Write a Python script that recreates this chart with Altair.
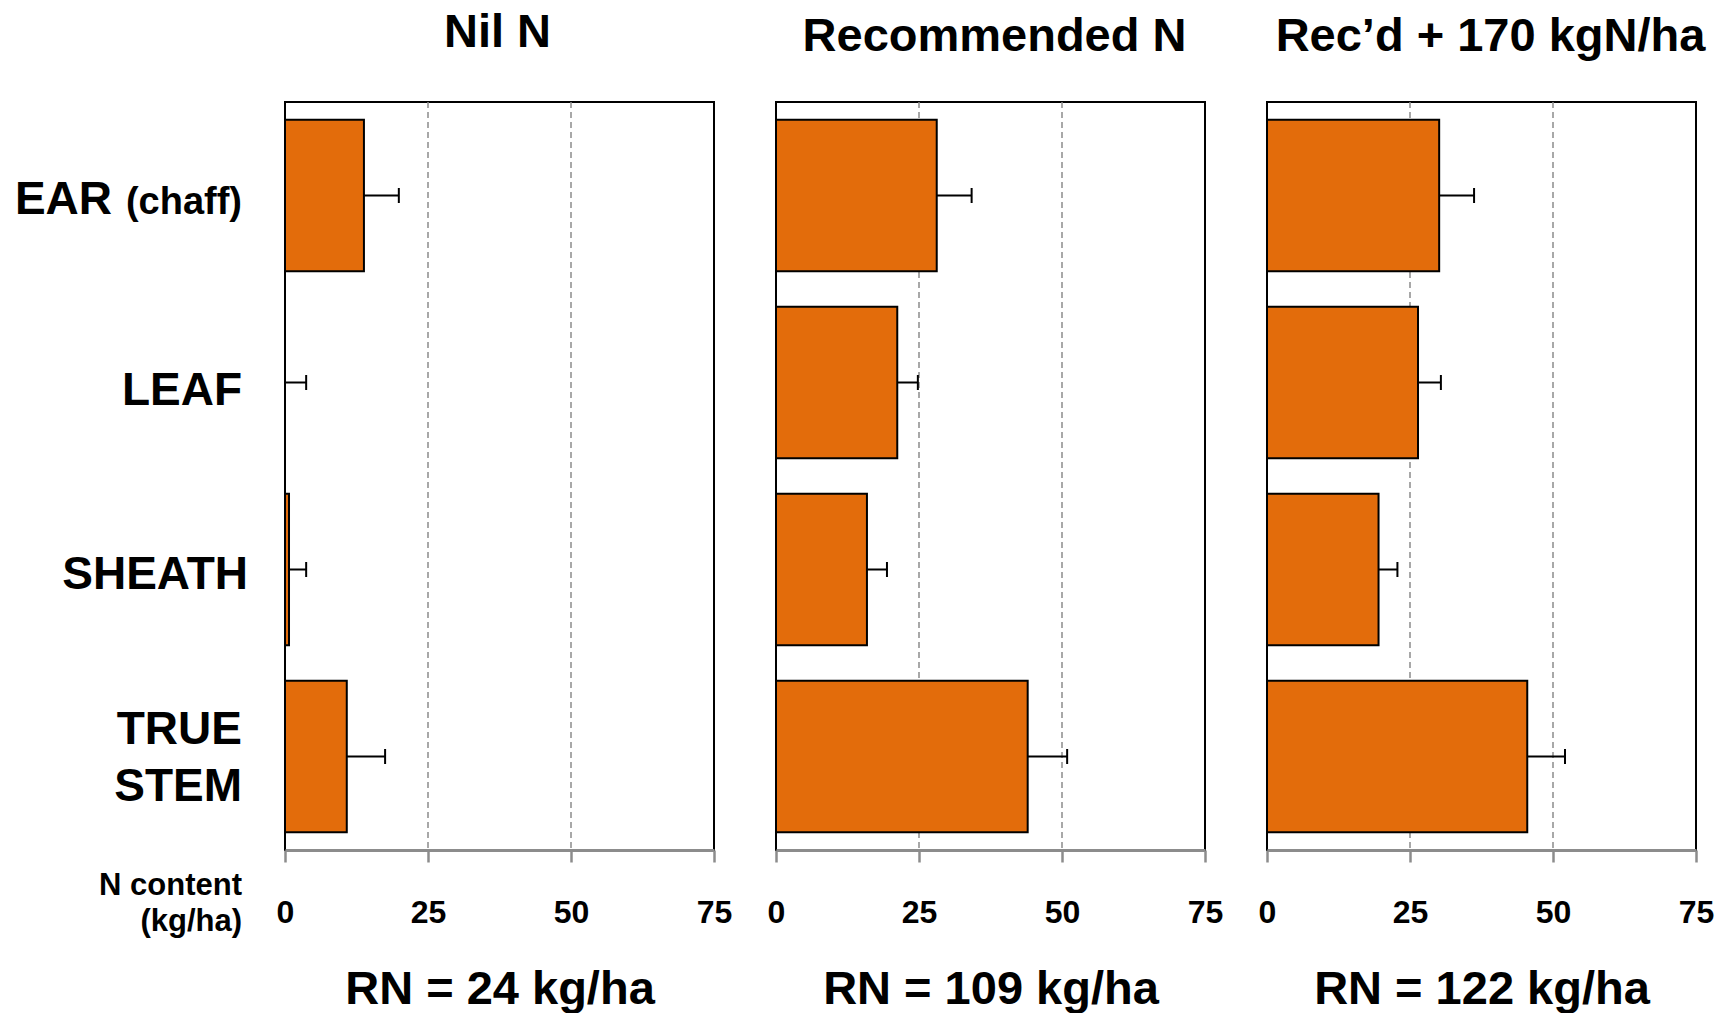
import altair as alt
import pandas as pd

# ---------------- data ----------------
parts = ["EAR", "LEAF", "SHEATH", "TRUE STEM"]

panel_titles = ["Nil N", "Recommended N", "Rec\u2019d + 170 kgN/ha"]
rn_labels = ["RN = 24 kg/ha", "RN = 109 kg/ha", "RN = 122 kg/ha"]

nil_vals = [13.8, 0.0, 0.7, 10.8]
nil_err = [6.1, 3.7, 3.0, 6.7]

rec_vals = [28.1, 21.2, 15.9, 44.0]
rec_err = [6.1, 3.6, 3.5, 6.9]

high_vals = [30.1, 26.4, 19.5, 45.5]
high_err = [6.1, 4.0, 3.3, 6.6]

x_ticks = [0, 25, 50, 75]
grid_vals = [25, 50]
x_label = "N content\n(kg/ha)"

# ---------------- style ----------------
FONT = "Liberation Sans"
ORANGE = "#E36C0B"
GREY = "#8c8c8c"
W = 429
H = 748
W0 = 234

yscale = alt.Scale(type="band", domain=parts, paddingInner=0.19, paddingOuter=0.095)
xscale = alt.Scale(domain=[0, 75], nice=False, zero=True)


def panel(title, vals, errs, rn, t_offset, t_dx):
    df = pd.DataFrame({
        "part": parts,
        "value": vals,
        "upper": [v + e for v, e in zip(vals, errs)],
    })
    base = alt.Chart(df).encode(
        y=alt.Y("part:N", scale=yscale, axis=None)
    )
    xaxis = alt.Axis(
        values=x_ticks, grid=False,
        domainColor=GREY, domainWidth=3, tickColor=GREY, tickWidth=2.5, tickSize=12,
        labelFont=FONT, labelFontSize=32, labelFontWeight="bold", labelColor="black",
        labelPadding=35, labelFlush=False,
        title=rn, titleFont=FONT, titleFontSize=47, titleFontWeight="bold",
        titleColor="black", titlePadding=38,
    )
    grid = alt.Chart(pd.DataFrame({"g": grid_vals})).mark_rule(
        color=GREY, strokeWidth=1.5, strokeDash=[6, 4]
    ).encode(x=alt.X("g:Q", scale=xscale))
    bars = base.mark_bar(color=ORANGE, stroke="black", strokeWidth=2).encode(
        x=alt.X("value:Q", scale=xscale, axis=xaxis)
    )
    rules = base.mark_rule(color="black", strokeWidth=2).encode(
        x=alt.X("value:Q"), x2="upper:Q"
    )
    caps = base.mark_tick(color="black", thickness=2, size=15, opacity=1).encode(
        x=alt.X("upper:Q")
    )
    return alt.layer(grid, bars, rules, caps).properties(
        width=W, height=H,
        view=alt.ViewBackground(stroke="black", strokeWidth=2),
        title=alt.TitleParams(
            title, font=FONT, fontSize=47, fontWeight="bold", color="black",
            anchor="middle", frame="group", baseline="alphabetic",
            offset=t_offset, dx=t_dx,
        ),
    )


p1 = panel(panel_titles[0], nil_vals, nil_err, rn_labels[0], 7, -2)
p2 = panel(panel_titles[1], rec_vals, rec_err, rn_labels[1], 3, 4)
p3 = panel(panel_titles[2], high_vals, high_err, rn_labels[2], 3, 9)

# ---------------- category labels column ----------------
lab_df = pd.DataFrame({
    "part": parts,
    "label": ["EAR", "LEAF", "SHEATH", "TRUE\nSTEM"],
    "sub": ["(chaff)", "", "", ""],
})
lbase = alt.Chart(lab_df).encode(y=alt.Y("part:N", scale=yscale, axis=None))
txt = dict(font=FONT, fontWeight="bold", color="black", align="right", baseline="middle")

lab_leaf = lbase.transform_filter(alt.datum.part == "LEAF").mark_text(
    fontSize=46, dy=8, **txt
).encode(text="label:N", x=alt.value(W0 - 1))
lab_stem = lbase.transform_filter(alt.datum.part == "TRUE STEM").mark_text(
    fontSize=46, lineBreak="\n", lineHeight=57, dy=-27, **txt
).encode(text="label:N", x=alt.value(W0 - 1))
lab_sheath = lbase.transform_filter(alt.datum.part == "SHEATH").mark_text(
    fontSize=46, dy=5, **txt
).encode(text="label:N", x=alt.value(W0 + 5))
lab_ear = lbase.transform_filter(alt.datum.part == "EAR").mark_text(
    fontSize=46, dy=4, **txt
).encode(text="label:N", x=alt.value(W0 - 131))
lab_chaff = lbase.transform_filter(alt.datum.part == "EAR").mark_text(
    fontSize=38, dy=7, **txt
).encode(text="sub:N", x=alt.value(W0 - 1))

xl = alt.Chart(pd.DataFrame({"t": [x_label]})).mark_text(
    font=FONT, fontWeight="bold", color="black", align="right", baseline="alphabetic",
    fontSize=31, lineBreak="\n", lineHeight=36,
).encode(text="t:N", x=alt.value(W0 - 1), y=alt.value(H + 45))

labels = alt.layer(lab_leaf, lab_stem, lab_sheath, lab_ear, lab_chaff, xl).properties(
    width=W0, height=H,
    view=alt.ViewBackground(stroke="transparent"),
)

panels = alt.hconcat(p1, p2, p3, spacing=62, bounds="flush")
chart = alt.hconcat(labels, panels, spacing=42, bounds="flush").properties(
    padding={"left": 0, "top": 0, "right": 0, "bottom": 0}
).configure_view(stroke="transparent")

chart.save("out.html", embed_options={"renderer": "svg", "actions": False})
